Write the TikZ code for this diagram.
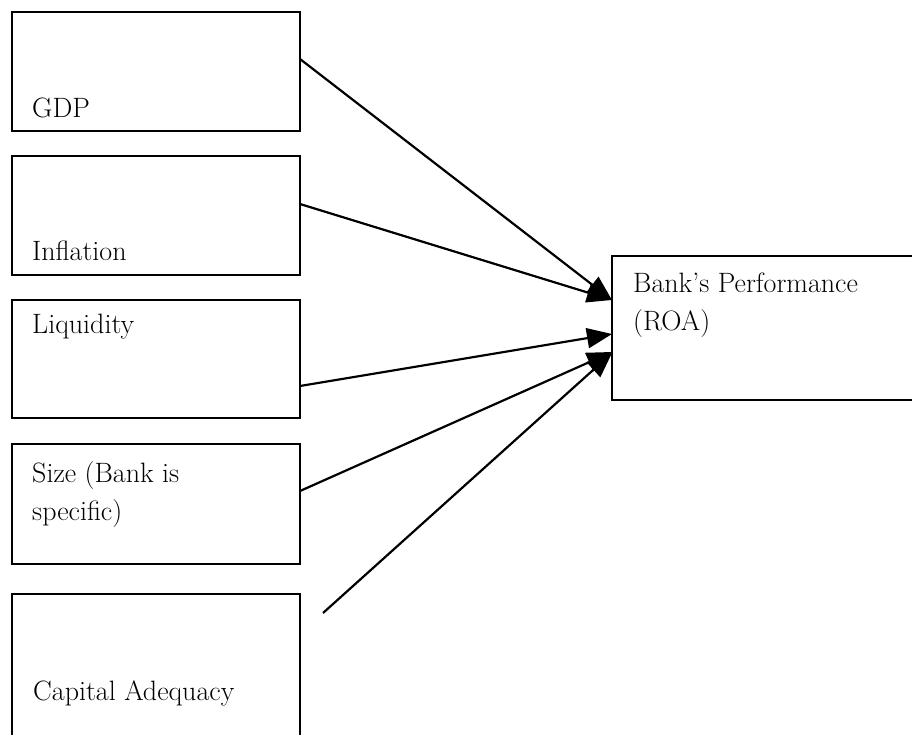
\documentclass[tikz,border=0pt]{standalone}
\usetikzlibrary{arrows.meta}
\begin{document}
\begin{tikzpicture}[x=1pt,y=-1pt,
  boxnode/.style={draw=black,line width=2pt,rectangle,anchor=north west,inner sep=0pt,outer sep=0pt},
  txt/.style={anchor=base west,inner sep=0pt,font=\fontsize{28}{38}\selectfont},
  txtml/.style={anchor=north west,inner sep=0pt,align=left,font=\fontsize{28}{38}\selectfont},
  arr/.style={line width=2.2pt,-{Triangle[length=25pt,width=20pt]}}]
\useasboundingbox (0,0) rectangle (912,734);
% boxes
\node[boxnode,minimum width=288pt,minimum height=119pt] (gdp) at (12,12) {};
\node[boxnode,minimum width=288pt,minimum height=119pt] (inf) at (12,156) {};
\node[boxnode,minimum width=288pt,minimum height=118pt] (liq) at (12,300) {};
\node[boxnode,minimum width=288pt,minimum height=120pt] (size) at (12,444) {};
\node[boxnode,minimum width=288pt,minimum height=160pt] (cap) at (12,594) {};
\node[boxnode,minimum width=320pt,minimum height=144pt] (roa) at (612,256) {};
% texts
\node[txt] (tgdp) at (32,117) {GDP};
\node[txt] (tinf) at (32,260) {Inflation};
\node[txt] (tliq) at (32,333) {Liquidity};
\node[txtml] (tsize) at (32,461) {Size (Bank is\\specific)};
\node[txt] (tcap) at (33,700) {Capital Adequacy};
\node[txtml] (troa) at (633,273) {Bank’s Performance\\(ROA)};
% connectors
\coordinate (c5) at (323,613);
\draw[arr] ([yshift=-47pt]gdp.north east) -- ([yshift=-44pt]roa.north west);
\draw[arr] ([yshift=-48pt]inf.north east) -- ([yshift=-44pt]roa.north west);
\draw[arr] ([yshift=-86pt]liq.north east) -- ([yshift=-78pt]roa.north west);
\draw[arr] ([yshift=-47pt]size.north east) -- ([yshift=-96pt]roa.north west);
\draw[arr] (c5) -- ([yshift=-97pt]roa.north west);
\end{tikzpicture}
\end{document}
